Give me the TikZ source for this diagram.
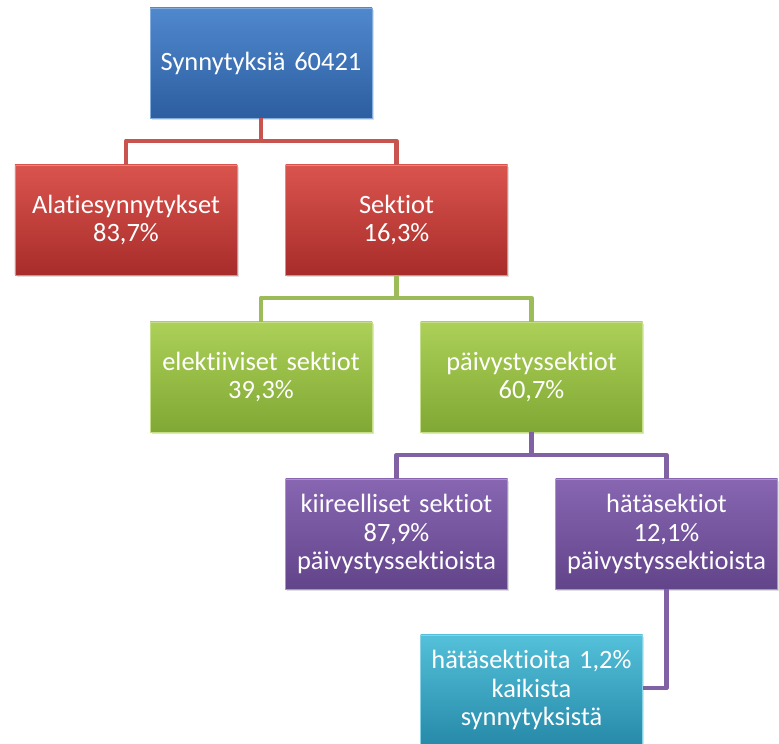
\documentclass[tikz,border=0pt]{standalone}
\usepackage{fontspec}
\setmainfont[RawFeature={-liga;-clig;-calt}, WordSpace=0.8]{Carlito}
\usepackage{tikz}
\usetikzlibrary{calc, shadows}
\definecolor{orgbluetop}{RGB}{80,136,206}
\definecolor{orgbluebot}{RGB}{44,94,160}
\definecolor{orgredtop}{RGB}{218,84,78}
\definecolor{orgredbot}{RGB}{168,44,42}
\definecolor{orggreentop}{RGB}{172,208,88}
\definecolor{orggreenbot}{RGB}{128,168,52}
\definecolor{orgpurptop}{RGB}{136,102,178}
\definecolor{orgpurpbot}{RGB}{98,68,138}
\definecolor{orgcyantop}{RGB}{84,192,218}
\definecolor{orgcyanbot}{RGB}{38,138,168}
\definecolor{linkred}{RGB}{200,84,80}
\definecolor{linkgreen}{RGB}{155,188,88}
\definecolor{linkpurp}{RGB}{128,98,164}

\tikzset{
  orgbox/.style={rectangle, minimum width=5.55cm, minimum height=2.75cm,
    text width=5.4cm, align=center, inner sep=0pt, text=white,
    font=\fontsize{18.8}{20}\selectfont,
    drop shadow={opacity=0.25, shadow xshift=0.04cm, shadow yshift=-0.05cm}},
  bluebox/.style={orgbox, top color=orgbluetop, bottom color=orgbluebot, draw=orgbluetop!70!white, line width=0.6pt},
  redbox/.style={orgbox, top color=orgredtop, bottom color=orgredbot, draw=orgredtop!70!white, line width=0.6pt},
  greenbox/.style={orgbox, top color=orggreentop, bottom color=orggreenbot, draw=orggreentop!70!white, line width=0.6pt},
  purpbox/.style={orgbox, top color=orgpurptop, bottom color=orgpurpbot, draw=orgpurptop!70!white, line width=0.6pt},
  cyanbox/.style={orgbox, top color=orgcyantop, bottom color=orgcyanbot, draw=orgcyantop!70!white, line width=0.6pt},
  link/.style={line width=3.4pt, line join=round}
}

\begin{document}
\begin{tikzpicture}[x=1cm, y=1cm]
\useasboundingbox (0,0) rectangle (19.475,18.6);

% ---- fork points ----
\coordinate (c1) at (6.525,15.075);
\coordinate (c2) at (9.9125,11.15);
\coordinate (c3) at (13.2875,7.225);

% ---- boxes ----
\node[bluebox]  (synn) at (6.525,17.025) {Synnytyksiä 60421};
\node[redbox]   (alat) at (3.15,13.1)    {Alatiesynnytykset\\83,7\%};
\node[redbox]   (sekt) at (9.9125,13.1)  {Sektiot\\16,3\%};
\node[greenbox] (elek) at (6.525,9.175)  {elektiiviset sektiot\\39,3\%};
\node[greenbox] (paiv) at (13.2875,9.175) {päivystyssektiot\\60,7\%};
\node[purpbox]  (kiir) at (9.9125,5.25)  {kiireelliset sektiot\\87,9\%\\päivystyssektioista};
\node[purpbox]  (hata) at (16.6625,5.25) {hätäsektiot\\12,1\%\\päivystyssektioista};
\node[cyanbox]  (kaik) at (13.2875,1.35) {hätäsektioita 1,2\%\\kaikista\\synnytyksistä};

% ---- links ----
\draw[link, linkred] (synn.south) -- (c1);
\draw[link, linkred] (alat.north) |- (c1) -| (sekt.north);
\draw[link, linkgreen] (sekt.south) -- (c2);
\draw[link, linkgreen] (elek.north) |- (c2) -| (paiv.north);
\draw[link, linkpurp] (paiv.south) -- (c3);
\draw[link, linkpurp] (kiir.north) |- (c3) -| (hata.north);
\draw[link, linkpurp] (hata.south) |- ([yshift=0.05cm]kaik.east);
\end{tikzpicture}
\end{document}
